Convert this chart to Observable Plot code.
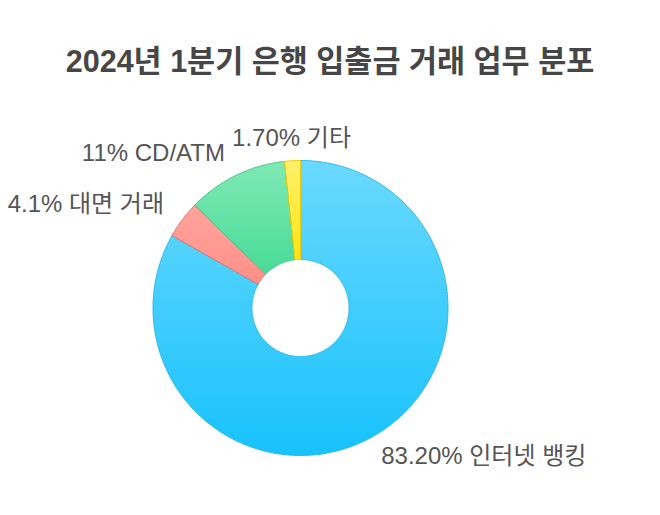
<!DOCTYPE html>
<html>
<head>
<meta charset="utf-8">
<script src="https://cdn.jsdelivr.net/npm/d3@7"></script>
<script src="https://cdn.jsdelivr.net/npm/@observablehq/plot@0.6"></script>
<style>
  body { margin: 0; background: #fff; font-family: "Liberation Sans", Arial, "Noto Sans CJK KR", sans-serif; }
  #title { height: 95px; width: 660px; text-align: center; font-weight: bold; font-size: 30.5px; color: #464646; line-height: 122px; box-sizing: border-box; white-space: nowrap; }
</style>
</head>
<body>
<div id="title">2024년 1분기 은행 입출금 거래 업무 분포</div>
<div id="chart"></div>
<script>
const categories = ["인터넷 뱅킹", "대면 거래", "CD/ATM", "기타"];
const values = [83.2, 4.1, 11, 1.7];
const valueLabels = ["83.20%", "4.1%", "11%", "1.70%"];
const topColors = ["#6ad9fe", "#ffa39d", "#80e9b6", "#fff06a"];
const bottomColors = ["#17c2fc", "#ff9088", "#48db96", "#ffe514"];
const strokeColors = ["#2bb8ea", "#e8706c", "#4cc88c", "#eacb00"];

const innerR = 0.329, outerR = 1;
const pie = d3.pie().sort(null).value(d => d)(values);

const pts = [];
pie.forEach((p, i) => {
  const n = Math.max(4, Math.ceil((p.endAngle - p.startAngle) / 0.01));
  const ring = [];
  for (let k = 0; k <= n; k++) {
    const a = p.startAngle + (p.endAngle - p.startAngle) * k / n;
    ring.push({i, x: outerR * Math.sin(a), y: outerR * Math.cos(a)});
  }
  for (let k = n; k >= 0; k--) {
    const a = p.startAngle + (p.endAngle - p.startAngle) * k / n;
    ring.push({i, x: innerR * Math.sin(a), y: innerR * Math.cos(a)});
  }
  pts.push(...ring);
});

const labels = pie.map((p, i) => {
  const a = (p.startAngle + p.endAngle) / 2;
  const s = Math.sin(a);
  const r = 1.14;
  return {
    text: valueLabels[i] + " " + categories[i],
    x: r * s,
    y: r * Math.cos(a),
    anchor: s > 0.1 ? "start" : s < -0.1 ? "end" : "middle"
  };
});

const cx = 300, cy = 212.5, R = 147.5;
const marks = [];
categories.forEach((c, i) => {
  marks.push(Plot.line(pts.filter(d => d.i === i), {
    x: "x", y: "y", curve: "linear-closed",
    fill: `url(#grad${i})`, stroke: strokeColors[i], strokeWidth: 1
  }));
});
const offsets = {start: [-4, 3], end: [-2, -3], middle: [0, -2]};
["start", "end", "middle"].forEach(an => {
  marks.push(Plot.text(labels.filter(d => d.anchor === an), {
    x: "x", y: "y", text: "text", textAnchor: an,
    dx: offsets[an][0], dy: offsets[an][1],
    fontSize: 24, fill: "#555", lineAnchor: "middle"
  }));
});

const chart = Plot.plot({
  width: 660, height: 420,
  margin: 0,
  x: {domain: [-1, 1], range: [cx - R, cx + R], axis: null},
  y: {domain: [-1, 1], range: [cy + R, cy - R], axis: null},
  style: {fontFamily: '"Liberation Sans", Arial, "Noto Sans CJK KR", sans-serif', background: "#fff", overflow: "visible"},
  marks
});

const svg = d3.select(chart);
const defs = svg.insert("defs", ":first-child");
categories.forEach((c, i) => {
  const g = defs.append("linearGradient").attr("id", `grad${i}`)
    .attr("x1", 0).attr("y1", 0).attr("x2", 0).attr("y2", 1);
  g.append("stop").attr("offset", "0%").attr("stop-color", topColors[i]);
  g.append("stop").attr("offset", "100%").attr("stop-color", bottomColors[i]);
});
document.getElementById("chart").appendChild(chart);
</script>
</body>
</html>
